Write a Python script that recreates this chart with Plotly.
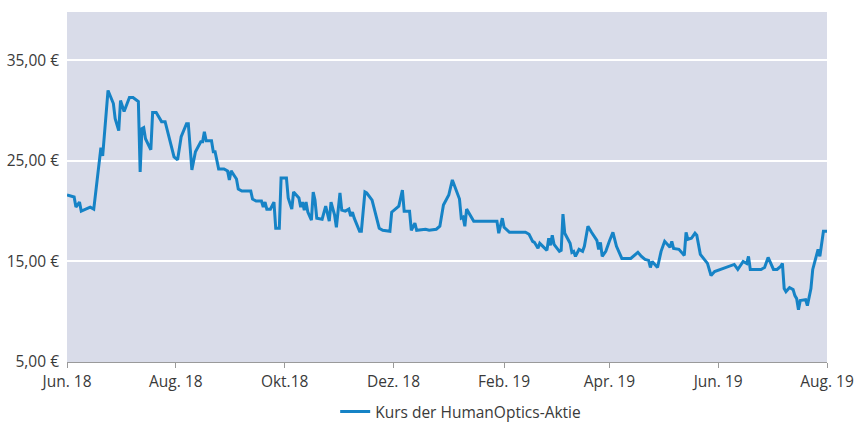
import plotly.graph_objects as go

dates = [
    "2018-06-01", "2018-06-05", "2018-06-06", "2018-06-08", "2018-06-09", "2018-06-12", "2018-06-14", "2018-06-16",
    "2018-06-20", "2018-06-21", "2018-06-24", "2018-06-27", "2018-06-28", "2018-06-30", "2018-07-01", "2018-07-03",
    "2018-07-06", "2018-07-08", "2018-07-11", "2018-07-12", "2018-07-13", "2018-07-14", "2018-07-15", "2018-07-18",
    "2018-07-19", "2018-07-21", "2018-07-24", "2018-07-26", "2018-07-29", "2018-07-31", "2018-08-02", "2018-08-04",
    "2018-08-07", "2018-08-08", "2018-08-10", "2018-08-12", "2018-08-15", "2018-08-16", "2018-08-17", "2018-08-18",
    "2018-08-21", "2018-08-22", "2018-08-23", "2018-08-25", "2018-08-28", "2018-08-30", "2018-08-31", "2018-09-01",
    "2018-09-04", "2018-09-05", "2018-09-07", "2018-09-12", "2018-09-13", "2018-09-15", "2018-09-18", "2018-09-19",
    "2018-09-20", "2018-09-21", "2018-09-23", "2018-09-25", "2018-09-26", "2018-09-28", "2018-09-29", "2018-10-02",
    "2018-10-03", "2018-10-05", "2018-10-06", "2018-10-09", "2018-10-10", "2018-10-11", "2018-10-12", "2018-10-13",
    "2018-10-14", "2018-10-16", "2018-10-17", "2018-10-18", "2018-10-19", "2018-10-22", "2018-10-24", "2018-10-25",
    "2018-10-26", "2018-10-27", "2018-10-29", "2018-10-30", "2018-11-01", "2018-11-02", "2018-11-04", "2018-11-06",
    "2018-11-07", "2018-11-08", "2018-11-09", "2018-11-12", "2018-11-13", "2018-11-15", "2018-11-16", "2018-11-19",
    "2018-11-23", "2018-11-25", "2018-11-29", "2018-11-30", "2018-12-04", "2018-12-06", "2018-12-07", "2018-12-10",
    "2018-12-11", "2018-12-13", "2018-12-14", "2018-12-19", "2018-12-21", "2018-12-25", "2018-12-26", "2018-12-27",
    "2018-12-29", "2019-01-01", "2019-01-03", "2019-01-05", "2019-01-07", "2019-01-08", "2019-01-09", "2019-01-10",
    "2019-01-11", "2019-01-15", "2019-01-28", "2019-01-29", "2019-01-31", "2019-02-01", "2019-02-04", "2019-02-11",
    "2019-02-13", "2019-02-15", "2019-02-17", "2019-02-18", "2019-02-20", "2019-02-21", "2019-02-25", "2019-02-26",
    "2019-02-27", "2019-02-28", "2019-03-01", "2019-03-04", "2019-03-05", "2019-03-06", "2019-03-07", "2019-03-10",
    "2019-03-11", "2019-03-12", "2019-03-13", "2019-03-15", "2019-03-17", "2019-03-18", "2019-03-20", "2019-03-22",
    "2019-03-25", "2019-03-26", "2019-03-27", "2019-03-28", "2019-03-30", "2019-04-01", "2019-04-03", "2019-04-05",
    "2019-04-08", "2019-04-13", "2019-04-15", "2019-04-17", "2019-04-19", "2019-04-21", "2019-04-23", "2019-04-24",
    "2019-04-25", "2019-04-28", "2019-04-30", "2019-05-02", "2019-05-05", "2019-05-06", "2019-05-07", "2019-05-10",
    "2019-05-13", "2019-05-14", "2019-05-15", "2019-05-17", "2019-05-19", "2019-05-20", "2019-05-22", "2019-05-24",
    "2019-05-26", "2019-05-28", "2019-05-30", "2019-06-10", "2019-06-12", "2019-06-15", "2019-06-17", "2019-06-18",
    "2019-06-19", "2019-06-25", "2019-06-27", "2019-06-29", "2019-07-02", "2019-07-04", "2019-07-06", "2019-07-07",
    "2019-07-08", "2019-07-09", "2019-07-11", "2019-07-13", "2019-07-14", "2019-07-15", "2019-07-16", "2019-07-17",
    "2019-07-20", "2019-07-21", "2019-07-23", "2019-07-24", "2019-07-27", "2019-07-28", "2019-07-30", "2019-08-01",
]

prices = [
    21.6, 21.4, 20.4, 20.9, 20.0, 20.2, 20.4, 20.2,
    26.3, 25.5, 32.0, 30.7, 29.2, 28.0, 31.0, 29.9,
    31.3, 31.3, 30.9, 23.9, 28.2, 28.3, 27.2, 26.1,
    29.8, 29.8, 28.9, 28.9, 26.9, 25.4, 25.1, 27.4,
    28.7, 28.7, 24.1, 25.9, 26.9, 26.9, 27.9, 27.0,
    27.0, 25.9, 25.9, 24.2, 24.2, 24.0, 23.1, 24.0,
    23.2, 22.2, 22.0, 22.0, 21.2, 21.0, 21.0, 20.4,
    20.9, 20.2, 20.2, 20.9, 18.3, 18.3, 23.3, 23.3,
    21.3, 20.2, 21.9, 21.3, 20.4, 20.9, 20.1, 20.9,
    19.9, 19.1, 21.9, 21.1, 19.3, 19.2, 20.5, 19.6,
    19.0, 20.9, 19.6, 18.4, 21.8, 20.1, 20.0, 20.2,
    19.5, 19.9, 19.3, 18.0, 18.0, 21.9, 21.8, 21.1,
    18.3, 18.1, 18.0, 19.9, 20.5, 22.1, 20.0, 20.0,
    18.1, 18.8, 18.1, 18.2, 18.1, 18.2, 18.4, 18.5,
    20.6, 21.6, 23.1, 22.1, 21.2, 19.3, 19.4, 18.5,
    20.2, 19.0, 19.0, 17.8, 19.3, 18.4, 17.9, 17.9,
    17.9, 17.7, 17.0, 16.9, 16.3, 16.8, 16.1, 17.3,
    16.6, 17.6, 16.7, 16.0, 16.1, 19.7, 17.8, 16.8,
    15.9, 16.0, 15.5, 16.2, 16.0, 16.5, 18.5, 17.9,
    17.1, 16.2, 16.9, 15.5, 16.0, 17.0, 17.9, 16.5,
    15.3, 15.3, 15.6, 15.9, 15.5, 15.2, 15.1, 14.4,
    15.0, 14.4, 16.0, 17.0, 16.4, 17.0, 16.3, 16.2,
    15.6, 17.9, 17.2, 17.3, 17.8, 17.6, 15.7, 15.3,
    14.8, 13.6, 14.0, 14.7, 14.2, 15.0, 14.8, 15.5,
    14.2, 14.2, 14.4, 15.4, 14.2, 14.2, 14.5, 14.8,
    12.3, 12.0, 12.4, 12.2, 11.6, 11.3, 10.2, 11.1,
    11.2, 10.6, 12.3, 14.2, 16.2, 15.5, 18.0, 18.0,
]

tick_dates = ["2018-06-01", "2018-08-01", "2018-10-01", "2018-12-01",
              "2019-02-01", "2019-04-01", "2019-06-01", "2019-08-01"]
tick_labels = ["Jun. 18", "Aug. 18", "Okt.18", "Dez. 18",
               "Feb. 19", "Apr. 19", "Jun. 19", "Aug. 19"]

y_ticks = [5, 15, 25, 35]
y_labels = ["5,00 €", "15,00 €", "25,00 €", "35,00 €"]

series_name = "Kurs der HumanOptics-Aktie"

fig = go.Figure()
fig.add_trace(go.Scatter(
    x=dates, y=prices, mode="lines", name=series_name,
    line=dict(color="#1683c6", width=3),
))

fig.update_layout(
    width=857, height=426,
    margin=dict(l=67, r=30, t=12, b=64, autoexpand=False),
    paper_bgcolor="white",
    plot_bgcolor="#d9dce9",
    font=dict(family="Open Sans, Noto Sans, sans-serif", size=15.5, color="#3a3a3a"),
    showlegend=True,
    legend=dict(orientation="h", x=0.518, xanchor="center", y=-0.143, yanchor="middle",
                font=dict(size=15.5, color="#3a3a3a"), bgcolor="rgba(0,0,0,0)"),
    xaxis=dict(
        type="date",
        range=["2018-06-01", "2019-08-01"],
        tickvals=tick_dates, ticktext=tick_labels,
        showgrid=False, zeroline=False, automargin=False,
        showline=True, linecolor="#9a9a9a", linewidth=1,
        ticks="outside", ticklen=5, tickcolor="#9a9a9a",
        tickfont=dict(size=15.5, color="#3a3a3a"),
    ),
    yaxis=dict(
        range=[5, 39.8],
        tickvals=y_ticks, ticktext=y_labels,
        showgrid=True, gridcolor="white", gridwidth=1.5,
        zeroline=False, showline=False, automargin=False,
        ticks="", ticklabelstandoff=7,
        tickfont=dict(size=15.5, color="#3a3a3a"),
    ),
)

fig.write_html(
    "out.html",
    config={"displayModeBar": False},
    post_script="document.body.style.margin='0px';document.body.style.overflow='hidden';",
)
